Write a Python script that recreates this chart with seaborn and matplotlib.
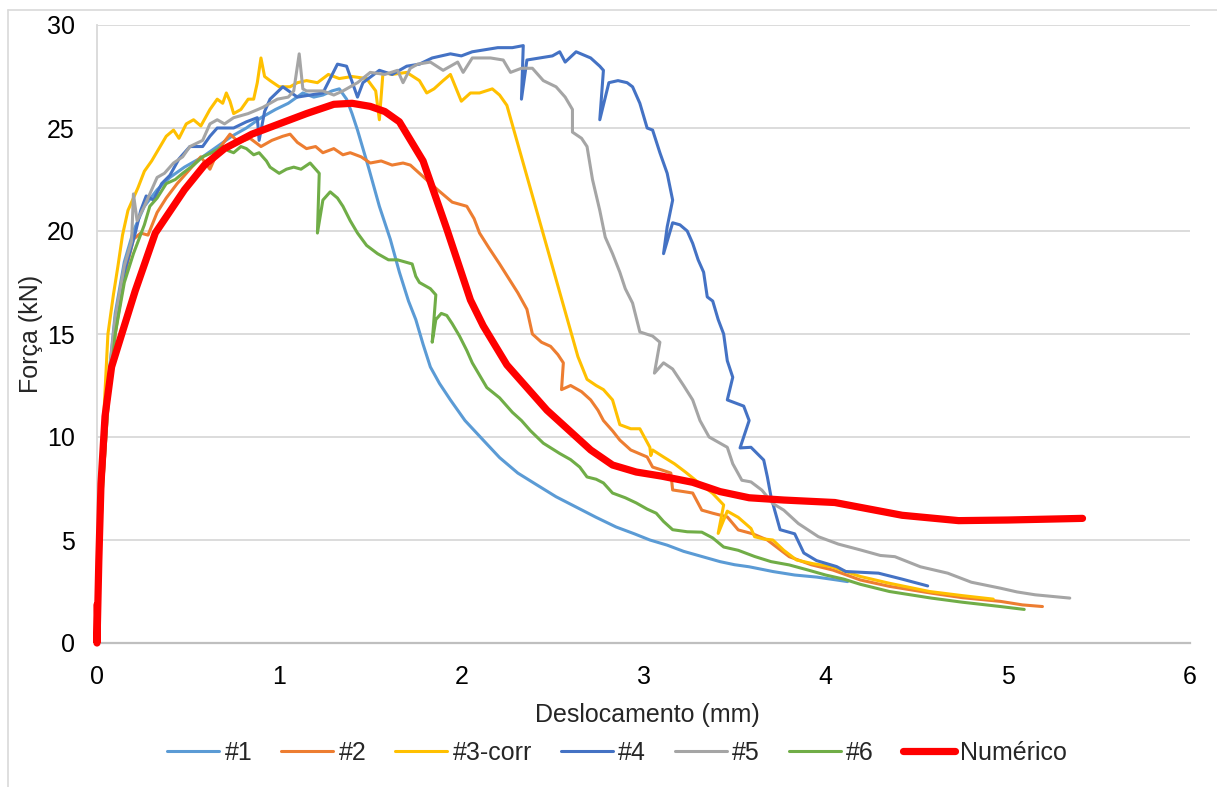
import matplotlib
matplotlib.use("Agg")
import matplotlib.pyplot as plt
from matplotlib.lines import Line2D
import seaborn as sns
import pandas as pd

# ---------------- data ----------------
labels = ["#1", "#2", "#3-corr", "#4", "#5", "#6", "Numérico"]
colors = ["#5B9BD5", "#ED7D31", "#FFC000", "#4472C4", "#A5A5A5", "#70AD47", "#FF0000"]

x1 = [0, 0.01, 0.03, 0.06, 0.1, 0.15, 0.2, 0.26, 0.33, 0.4, 0.48, 0.58, 0.66, 0.74, 0.82, 0.9, 0.98, 1.05,
      1.13, 1.19, 1.24, 1.29, 1.33, 1.37, 1.40, 1.43, 1.49, 1.55, 1.61, 1.66, 1.71, 1.75, 1.79, 1.83, 1.88,
      1.94, 2.02, 2.12, 2.21, 2.31, 2.41, 2.52, 2.63, 2.74, 2.85, 2.95, 3.035, 3.13, 3.22, 3.32, 3.42, 3.50,
      3.58, 3.71, 3.83, 3.95, 4.06, 4.12]
y1 = [0, 3.5, 8.5, 12.5, 16.0, 18.5, 20.0, 21.2, 22.0, 22.6, 23.1, 23.6, 24.1, 24.6, 25.0, 25.5, 25.9, 26.2,
      26.7, 26.5, 26.6, 26.8, 26.9, 26.4, 25.7, 24.9, 23.1, 21.2, 19.6, 18.0, 16.6, 15.7, 14.5, 13.4, 12.6,
      11.8, 10.8, 9.85, 9.0, 8.25, 7.7, 7.1, 6.6, 6.1, 5.63, 5.3, 5.0, 4.75, 4.45, 4.2, 3.95, 3.8,
      3.7, 3.47, 3.3, 3.2, 3.06, 2.98]

x2 = [0, 0.01, 0.03, 0.06, 0.1, 0.15, 0.2, 0.24, 0.28, 0.33, 0.38, 0.44, 0.5, 0.54, 0.57, 0.62, 0.67, 0.73,
      0.78, 0.84, 0.9, 0.96, 1.02, 1.06, 1.10, 1.15, 1.2, 1.24, 1.30, 1.35, 1.39, 1.45, 1.50, 1.56, 1.62,
      1.68, 1.72, 1.77, 1.82, 1.87, 1.91, 1.95, 2.03, 2.07, 2.10, 2.15, 2.21, 2.26, 2.31, 2.36, 2.39, 2.44,
      2.49, 2.53, 2.56, 2.55, 2.60, 2.66, 2.71, 2.75, 2.78, 2.83, 2.87, 2.93, 3.02, 3.05, 3.10, 3.15, 3.16,
      3.22, 3.27, 3.32, 3.38, 3.46, 3.52, 3.60, 3.68, 3.80, 3.92, 4.04, 4.19, 4.35, 4.58, 4.75, 4.96, 5.08, 5.19]
y2 = [0, 3.0, 7.5, 11.5, 15.0, 17.8, 19.6, 19.9, 19.8, 20.9, 21.6, 22.3, 22.9, 23.3, 23.6, 23.0, 24.0, 24.7,
      24.3, 24.5, 24.1, 24.4, 24.6, 24.7, 24.3, 24.0, 24.1, 23.8, 24.0, 23.7, 23.8, 23.6, 23.3, 23.4, 23.2,
      23.3, 23.2, 22.8, 22.4, 22.0, 21.7, 21.4, 21.2, 20.6, 19.9, 19.2, 18.4, 17.7, 17.0, 16.2, 15.0, 14.6,
      14.4, 14.0, 13.6, 12.3, 12.5, 12.2, 11.8, 11.3, 10.8, 10.3, 9.85, 9.37, 9.03, 8.54, 8.4, 8.25, 7.43,
      7.35, 7.28, 6.45, 6.3, 6.12, 5.49, 5.3, 5.0, 4.19, 3.8, 3.54, 3.06, 2.75, 2.42, 2.2, 2.02, 1.85, 1.77]

x3 = [0, 0.01, 0.02, 0.04, 0.06, 0.09, 0.115, 0.14, 0.17, 0.2, 0.225, 0.26, 0.3, 0.34, 0.38, 0.42, 0.45, 0.49,
      0.53, 0.57, 0.62, 0.66, 0.69, 0.71, 0.73, 0.75, 0.79, 0.83, 0.86, 0.88, 0.90, 0.92, 0.95, 1.0, 1.06,
      1.10, 1.15, 1.21, 1.27, 1.33, 1.40, 1.48, 1.53, 1.55, 1.57, 1.62, 1.70, 1.77, 1.81, 1.85, 1.90, 1.94,
      2.0, 2.05, 2.10, 2.17, 2.21, 2.25, 2.64, 2.69, 2.74, 2.78, 2.83, 2.87, 2.93, 2.98, 3.035, 3.04, 3.05,
      3.11, 3.17, 3.23, 3.30, 3.38, 3.44, 3.41, 3.46, 3.52, 3.59, 3.61, 3.66, 3.71, 3.77, 3.84, 3.93, 4.03,
      4.19, 4.35, 4.57, 4.75, 4.92]
y3 = [0, 4.0, 7.8, 11.5, 15.0, 16.9, 18.3, 19.8, 21.0, 21.6, 22.1, 22.9, 23.4, 24.0, 24.6, 24.9, 24.5, 25.2,
      25.4, 25.1, 25.9, 26.4, 26.2, 26.7, 26.3, 25.7, 25.9, 26.4, 26.4, 27.2, 28.4, 27.5, 27.3, 27.0, 27.0,
      27.2, 27.3, 27.2, 27.6, 27.4, 27.5, 27.4, 26.8, 25.4, 27.7, 27.6, 27.7, 27.3, 26.7, 26.9, 27.3, 27.6,
      26.3, 26.7, 26.7, 26.9, 26.6, 26.1, 13.9, 12.8, 12.5, 12.3, 11.8, 10.6, 10.4, 10.4, 9.5, 9.1, 9.37,
      9.03, 8.7, 8.3, 7.8, 7.26, 6.7, 5.32, 6.4, 6.1, 5.56, 5.16, 5.05, 5.0, 4.5, 4.03, 3.85, 3.71,
      3.23, 2.9, 2.5, 2.3, 2.13]

x4 = [0, 0.01, 0.03, 0.06, 0.1, 0.15, 0.21, 0.24, 0.27, 0.31, 0.355, 0.40, 0.45, 0.51, 0.58, 0.62, 0.66, 0.75,
      0.82, 0.88, 0.89, 0.92, 0.95, 1.02, 1.10, 1.17, 1.24, 1.28, 1.32, 1.37, 1.41, 1.43, 1.46, 1.55, 1.62,
      1.70, 1.77, 1.84, 1.94, 2.0, 2.06, 2.13, 2.20, 2.28, 2.34, 2.33, 2.36, 2.43, 2.50, 2.54, 2.57, 2.63,
      2.71, 2.76, 2.78, 2.76, 2.81, 2.86, 2.91, 2.94, 2.98, 3.02, 3.05, 3.09, 3.13, 3.16, 3.13, 3.11, 3.16,
      3.20, 3.24, 3.27, 3.30, 3.33, 3.35, 3.38, 3.41, 3.44, 3.46, 3.49, 3.46, 3.55, 3.58, 3.53, 3.59, 3.66,
      3.68, 3.70, 3.72, 3.75, 3.83, 3.88, 3.95, 4.06, 4.11, 4.29, 4.42, 4.56]
y4 = [0, 3.5, 8.0, 12.0, 15.5, 18.0, 19.9, 21.0, 21.7, 21.5, 22.3, 22.7, 23.5, 24.1, 24.1, 24.6, 25.0, 25.0,
      25.3, 25.5, 24.4, 25.8, 26.4, 27.0, 26.5, 26.6, 26.7, 27.4, 28.1, 28.0, 27.0, 26.5, 27.2, 27.8, 27.6,
      28.0, 28.1, 28.4, 28.6, 28.5, 28.7, 28.8, 28.9, 28.9, 29.0, 26.4, 28.3, 28.4, 28.5, 28.7, 28.2, 28.7,
      28.4, 28.0, 27.8, 25.4, 27.2, 27.3, 27.2, 27.0, 26.2, 25.0, 24.9, 23.8, 22.8, 21.5, 20.2, 18.9, 20.4,
      20.3, 20.0, 19.4, 18.6, 18.0, 16.8, 16.6, 15.7, 15.0, 13.7, 12.9, 11.8, 11.5, 10.8, 9.47, 9.5, 8.88,
      8.06, 7.1, 6.45, 5.5, 5.3, 4.37, 4.0, 3.71, 3.47, 3.39, 3.1, 2.77]

x5 = [0, 0.01, 0.03, 0.06, 0.1, 0.15, 0.19, 0.2, 0.22, 0.26, 0.33, 0.37, 0.42, 0.47, 0.51, 0.58, 0.62, 0.66,
      0.70, 0.75, 0.83, 0.91, 0.99, 1.05, 1.08, 1.11, 1.13, 1.15, 1.24, 1.30, 1.35, 1.43, 1.50, 1.58, 1.65,
      1.68, 1.72, 1.76, 1.83, 1.90, 1.94, 1.98, 2.01, 2.06, 2.12, 2.16, 2.23, 2.27, 2.33, 2.39, 2.45, 2.52,
      2.57, 2.61, 2.61, 2.66, 2.69, 2.72, 2.76, 2.79, 2.83, 2.87, 2.90, 2.94, 2.98, 3.05, 3.09, 3.06, 3.11,
      3.16, 3.22, 3.27, 3.31, 3.36, 3.42, 3.46, 3.49, 3.54, 3.59, 3.65, 3.71, 3.77, 3.85, 3.96, 4.07, 4.19,
      4.30, 4.38, 4.52, 4.67, 4.80, 4.96, 5.05, 5.15, 5.34]
y5 = [0, 3.8, 8.5, 12.5, 15.8, 18.3, 19.5, 21.8, 20.5, 21.2, 22.6, 22.8, 23.3, 23.6, 24.1, 24.4, 25.2, 25.4,
      25.2, 25.5, 25.7, 26.0, 26.4, 26.5, 26.8, 28.6, 26.9, 26.8, 26.8, 26.6, 26.8, 27.2, 27.7, 27.6, 27.8,
      27.2, 27.9, 28.1, 28.2, 27.8, 28.0, 28.2, 27.7, 28.4, 28.4, 28.4, 28.3, 27.7, 27.9, 27.9, 27.3, 27.0,
      26.5, 25.9, 24.8, 24.5, 24.1, 22.5, 21.0, 19.7, 18.9, 18.0, 17.2, 16.5, 15.1, 14.9, 14.6, 13.1, 13.6,
      13.3, 12.5, 11.8, 10.8, 10.0, 9.7, 9.5, 8.7, 7.9, 7.82, 7.42, 6.77, 6.45, 5.8, 5.16, 4.8, 4.52,
      4.25, 4.19, 3.7, 3.39, 2.95, 2.66, 2.48, 2.34, 2.18]

x6 = [0, 0.01, 0.03, 0.06, 0.1, 0.15, 0.2, 0.26, 0.29, 0.33, 0.38, 0.43, 0.47, 0.53, 0.58, 0.63, 0.69, 0.72,
      0.75, 0.79, 0.82, 0.86, 0.89, 0.93, 0.95, 1.0, 1.04, 1.08, 1.12, 1.17, 1.20, 1.22, 1.21, 1.24, 1.28,
      1.32, 1.35, 1.39, 1.43, 1.48, 1.54, 1.60, 1.65, 1.73, 1.75, 1.77, 1.83, 1.86, 1.84, 1.86, 1.89, 1.92,
      1.95, 1.99, 2.03, 2.06, 2.10, 2.14, 2.21, 2.28, 2.33, 2.38, 2.45, 2.54, 2.60, 2.65, 2.69, 2.74, 2.78,
      2.83, 2.90, 2.96, 3.02, 3.07, 3.11, 3.16, 3.24, 3.32, 3.38, 3.44, 3.52, 3.61, 3.70, 3.80, 3.90, 4.0,
      4.10, 4.19, 4.35, 4.58, 4.75, 4.96, 5.09]
y6 = [0, 3.0, 7.5, 11.5, 15.0, 17.5, 18.9, 20.3, 21.2, 21.6, 22.3, 22.5, 22.8, 23.2, 23.6, 23.8, 24.1, 23.9,
      23.8, 24.1, 24.0, 23.7, 23.8, 23.4, 23.1, 22.8, 23.0, 23.1, 23.0, 23.3, 23.0, 22.8, 19.9, 21.5, 21.9,
      21.6, 21.2, 20.5, 19.9, 19.3, 18.9, 18.6, 18.6, 18.4, 17.8, 17.5, 17.2, 16.9, 14.6, 15.7, 16.0, 15.9,
      15.5, 14.9, 14.2, 13.6, 13.0, 12.4, 11.9, 11.2, 10.8, 10.3, 9.7, 9.2, 8.9, 8.54, 8.06, 7.95, 7.77,
      7.28, 7.05, 6.8, 6.5, 6.3, 5.9, 5.5, 5.4, 5.38, 5.1, 4.66, 4.5, 4.2, 3.95, 3.79, 3.55, 3.3,
      3.1, 2.85, 2.5, 2.18, 1.98, 1.77, 1.63]

x_num = [0, 0, 0.01, 0.022, 0.044, 0.08, 0.136, 0.21, 0.32, 0.48, 0.59, 0.7, 0.85, 1.0, 1.15, 1.3, 1.4, 1.5,
         1.58, 1.66, 1.79, 1.92, 2.05, 2.12, 2.25, 2.47, 2.71, 2.83, 2.96, 3.1, 3.27, 3.42, 3.58, 3.77, 4.05,
         4.42, 4.73, 5.0, 5.41]
y_num = [1.85, 0, 4.0, 7.75, 11.0, 13.4, 15.0, 17.1, 19.9, 22.0, 23.2, 24.0, 24.7, 25.2, 25.7, 26.15, 26.2,
         26.05, 25.8, 25.3, 23.4, 20.1, 16.65, 15.4, 13.5, 11.3, 9.37, 8.64, 8.3, 8.1, 7.8, 7.35, 7.05, 6.94,
         6.82, 6.2, 5.94, 5.97, 6.05]

x_ticks = [0, 1, 2, 3, 4, 5, 6]
y_ticks = [0, 5, 10, 15, 20, 25, 30]
x_title = "Deslocamento (mm)"
y_title = "Força (kN)"

series_x = [x1, x2, x3, x4, x5, x6, x_num]
series_y = [y1, y2, y3, y4, y5, y6, y_num]

# ---------------- figure ----------------
sns.set_theme(style="white")
plt.rcParams["font.family"] = ["Liberation Sans", "DejaVu Sans"]
FS = 18

fig = plt.figure(figsize=(12.17, 7.87), dpi=100)
L, R, B, T = 97 / 1217, 1190 / 1217, 1 - 643 / 787, 1 - 25 / 787
ax = fig.add_axes([L, B, R - L, T - B])

handles = []
for i, (lab, col) in enumerate(zip(labels, colors)):
    df = pd.DataFrame({"x": series_x[i], "y": series_y[i]})
    lw = 5.2 if lab == "Numérico" else 2.2
    sns.lineplot(data=df, x="x", y="y", sort=False, estimator=None, ax=ax, color=col,
                 linewidth=lw, zorder=3 + i, legend=False)
    line = ax.lines[-1]
    line.set_solid_capstyle("round")
    line.set_solid_joinstyle("round")
    line.set_clip_on(False)
    handles.append(Line2D([0], [0], color=col, linewidth=lw, solid_capstyle="round", label=lab))

ax.set_xlim(0, 6)
ax.set_ylim(0, 30)
ax.set_xticks(x_ticks)
ax.set_yticks(y_ticks)
ax.set_xticklabels([str(v) for v in x_ticks])
ax.set_yticklabels([str(v) for v in y_ticks])
ax.tick_params(axis="both", length=0, labelsize=FS, colors="#000000")
ax.tick_params(axis="x", pad=16)
ax.tick_params(axis="y", pad=16)

ax.grid(axis="y", color="#D9D9D9", linewidth=1.3, zorder=0)
ax.grid(axis="x", visible=False)
ax.set_axisbelow(True)
for s in ["top", "right"]:
    ax.spines[s].set_visible(False)
ax.spines["bottom"].set_color("#BFBFBF")
ax.spines["bottom"].set_linewidth(1.6)
ax.spines["left"].set_color("#D9D9D9")
ax.spines["left"].set_linewidth(1.3)

ax.set_xlabel(x_title, fontsize=FS)
ax.set_ylabel(y_title, fontsize=FS)
ax.xaxis.set_label_coords((647 - 97) / 1093, (643 - 715) / 618)
ax.xaxis.label.set_verticalalignment("center")
ax.yaxis.set_label_coords((31 - 97) / 1093, 0.5)
ax.yaxis.label.set_verticalalignment("center")

fig.legend(handles=handles, loc="center", bbox_to_anchor=(617 / 1217, 1 - 753 / 787), ncol=7,
           frameon=False, fontsize=FS, handlelength=2.1, handletextpad=0.2, columnspacing=1.15,
           borderaxespad=0, borderpad=0)

# chart-area border (left and top edges visible in the reference)
fig.add_artist(Line2D([8 / 1217, 8 / 1217], [0, 1 - 10 / 787], transform=fig.transFigure,
                      color="#D9D9D9", linewidth=1.2))
fig.add_artist(Line2D([8 / 1217, 1], [1 - 10 / 787, 1 - 10 / 787], transform=fig.transFigure,
                      color="#D9D9D9", linewidth=1.2))

fig.savefig("out.png", dpi=100, facecolor="white")
